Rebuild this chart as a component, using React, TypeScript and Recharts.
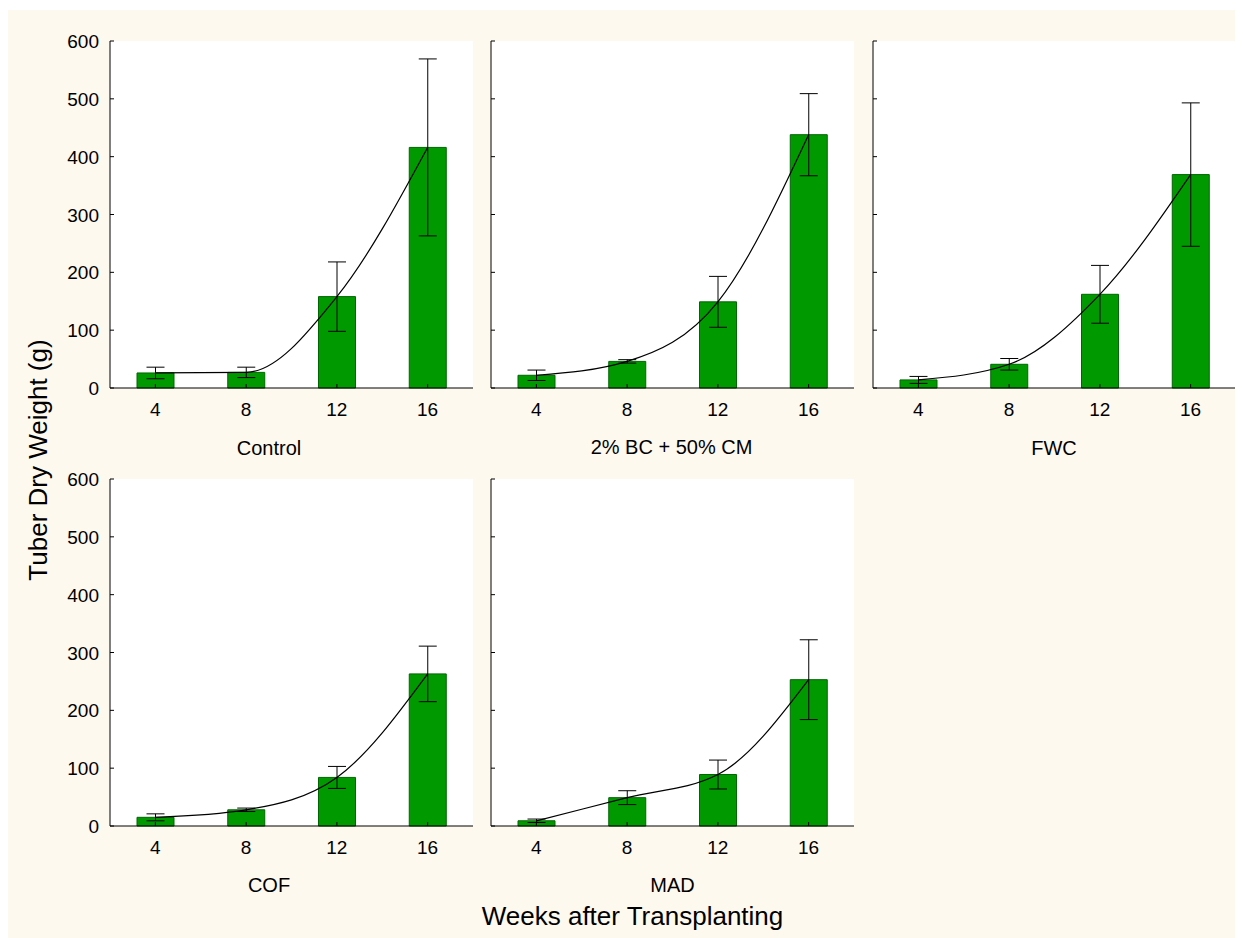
import React from 'react';
import { ComposedChart, Bar, Line, XAxis, YAxis, CartesianGrid, ErrorBar } from 'recharts';

const weeks = ['4', '8', '12', '16'];
const yTicks = [0, 100, 200, 300, 400, 500, 600];

const controlMean = [26, 27, 158, 416];
const controlErr = [10, 9, 60, 153];
const bcCmMean = [22, 46, 149, 438];
const bcCmErr = [9, 3, 44, 71];
const fwcMean = [14, 41, 162, 369];
const fwcErr = [6, 10, 50, 124];
const cofMean = [15, 28, 84, 263];
const cofErr = [6, 3, 19, 48];
const madMean = [9, 49, 89, 253];
const madErr = [3, 12, 25, 69];

const panelNames = ['Control', '2% BC + 50% CM', 'FWC', 'COF', 'MAD'];
const panelMeans = [controlMean, bcCmMean, fwcMean, cofMean, madMean];
const panelErrs = [controlErr, bcCmErr, fwcErr, cofErr, madErr];

const FONT = "Arial, 'Liberation Sans', sans-serif";
const BG = '#FEF9EF';

const Y_GAP = 11;

const YTick = (props: any) => {
  const { x, y, payload, showLabel } = props;
  const ax = x + Y_GAP;
  return (
    <g>
      <line x1={ax} x2={ax + 4} y1={y} y2={y} stroke="#000" strokeWidth={1} />
      {showLabel ? (
        <text x={x} y={y} dy={7} textAnchor="end" fontSize={19} fill="#000" fontFamily={FONT}>
          {payload.value}
        </text>
      ) : null}
    </g>
  );
};

const XTick = (props: any) => {
  const { x, y, payload } = props;
  return (
    <g>
      <line x1={x} x2={x} y1={y} y2={y - 4} stroke="#000" strokeWidth={1} />
      <text x={x} y={y + 28} textAnchor="middle" fontSize={19} fill="#000" fontFamily={FONT}>
        {payload.value}
      </text>
    </g>
  );
};

// chart boxes within the container (left, top)
const chartPos = [
  [42, 21],
  [423, 21],
  [804.5, 21],
  [42, 459],
  [423, 459],
];

const Panel = ({ idx }: { idx: number }) => {
  const data = weeks.map((w, i) => ({ week: w, mean: panelMeans[idx][i], err: panelErrs[idx][i] }));
  const [left, top] = chartPos[idx];
  const showLabel = idx === 0 || idx === 3;
  return (
    <div style={{ position: 'absolute', left, top }}>
      <ComposedChart width={428} height={397} data={data} margin={{ top: 10, right: 5, bottom: 0, left: 0 }}>
        <CartesianGrid horizontal={false} vertical={false} stroke="none" fill="#ffffff" fillOpacity={1} />
        <XAxis
          dataKey="week"
          type="category"
          height={40}
          interval={0}
          tickSize={0}
          tickMargin={0}
          tickLine={false}
          axisLine={{ stroke: '#000', strokeWidth: 1 }}
          tick={<XTick />}
        />
        <YAxis
          type="number"
          domain={[0, 600]}
          ticks={yTicks}
          interval={0}
          width={60}
          tickSize={0}
          tickMargin={Y_GAP}
          tickLine={false}
          axisLine={{ stroke: '#000', strokeWidth: 1 }}
          tick={<YTick showLabel={showLabel} />}
        />
        <Bar dataKey="mean" barSize={37} fill="#009900" stroke="#006600" strokeWidth={1} isAnimationActive={false}>
          <ErrorBar dataKey="err" width={9} stroke="#000" strokeWidth={1} direction="y" isAnimationActive={false} />
        </Bar>
        <Line dataKey="mean" type="monotone" stroke="#000" strokeWidth={1.2} dot={false} activeDot={false} isAnimationActive={false} />
      </ComposedChart>
    </div>
  );
};

const labelPos = [
  [261, 445],
  [663.5, 444],
  [1046, 445],
  [261, 882],
  [664.5, 882],
];

export default function App() {
  return (
    <div style={{ paddingTop: 2 }}>
      <div style={{ position: 'relative', width: 1235, height: 928, background: BG, fontFamily: FONT }}>
        {panelNames.map((_, i) => (
          <Panel key={i} idx={i} />
        ))}
        <svg width={1235} height={928} style={{ position: 'absolute', left: 0, top: 0, pointerEvents: 'none' }}>
          {panelNames.map((name, i) => (
            <text key={name} x={labelPos[i][0]} y={labelPos[i][1]} textAnchor="middle" fontSize={20} fill="#000" fontFamily={FONT}>
              {name}
            </text>
          ))}
          <text x={624.5} y={915} textAnchor="middle" fontSize={26} fill="#000" fontFamily={FONT}>
            Weeks after Transplanting
          </text>
          <text x={38.5} y={450} textAnchor="middle" fontSize={26} fill="#000" fontFamily={FONT} transform="rotate(-90 38.5 450)">
            Tuber Dry Weight (g)
          </text>
        </svg>
      </div>
    </div>
  );
}
